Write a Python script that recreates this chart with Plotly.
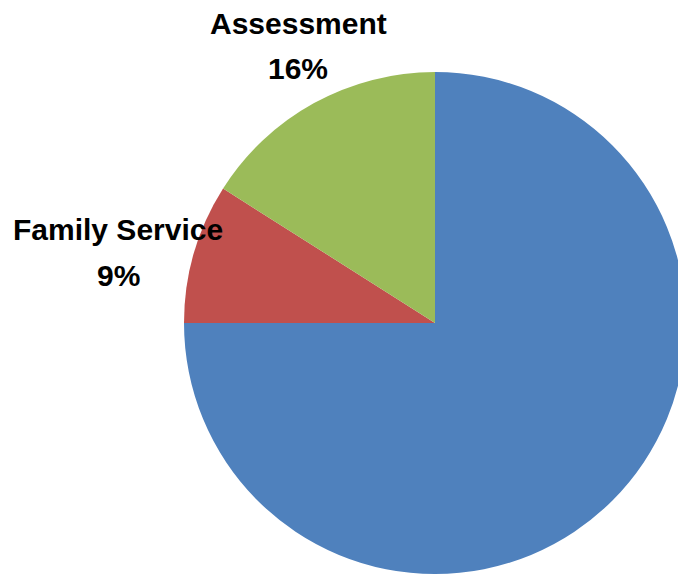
import plotly.graph_objects as go

categories = ["Other", "Family Service", "Assessment"]
values = [75, 9, 16]
colors = ["#4F81BD", "#C0504D", "#9BBB59"]
shown = [False, True, True]
# label placement in pixels (x centre, name line y, percent line y)
label_pos = {"Family Service": (110, 222, 267), "Assessment": (290, 16, 60)}

# page body has an 8px margin, so keep the figure inside the 686x582 window
W, H = 678, 574
cx, cy, r = 427, 315, 251
fig = go.Figure(go.Pie(
    labels=categories, values=values, sort=False, direction="clockwise",
    rotation=0, textinfo="none", hoverinfo="label+percent",
    marker=dict(colors=colors, line=dict(width=0)),
    domain=dict(x=[(cx - r) / W, min(1.0, (cx + r) / W)],
                y=[1 - (cy + r) / H, 1 - (cy - r) / H]),
    showlegend=False,
))

total = sum(values)
font = dict(family="Liberation Sans, Arial, sans-serif", size=30, color="#000000")
for cat, val, s in zip(categories, values, shown):
    if not s:
        continue
    x, y1, y2 = label_pos[cat]
    fig.add_annotation(x=x / W, y=1 - y1 / H, xref="paper", yref="paper",
                       text=f"<b>{cat}</b>", showarrow=False, font=font,
                       xanchor="center", yanchor="middle")
    fig.add_annotation(x=x / W, y=1 - y2 / H, xref="paper", yref="paper",
                       text=f"<b>{round(val / total * 100)}%</b>", showarrow=False,
                       font=font, xanchor="center", yanchor="middle")

fig.update_layout(width=W, height=H, margin=dict(l=0, r=0, t=0, b=0),
                  paper_bgcolor="white", plot_bgcolor="white")
fig.write_html("out.html")
